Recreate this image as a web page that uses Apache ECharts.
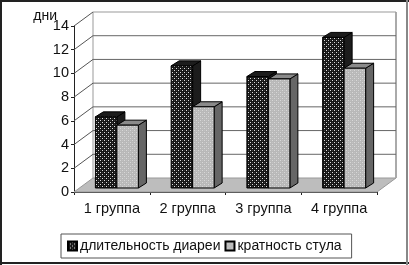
<!DOCTYPE html>
<html><head><meta charset="utf-8">
<style>html,body{margin:0;padding:0;background:#fff}#c{width:409px;height:265px}</style>
<script src="https://cdn.jsdelivr.net/npm/echarts@6/dist/echarts.min.js"></script>
</head><body><div id="c"></div>
<script>
const categories = ['1 группа','2 группа','3 группа','4 группа'];
const seriesNames = ['длительность диареи','кратность стула'];
const durationValues = [6.0,10.3,9.4,12.7];
const frequencyValues = [5.3,6.85,9.2,10.1];
const yTicks = [0,2,4,6,8,10,12,14];

function makePattern(bg, dot, alt){
  const c=document.createElement('canvas');c.width=4;c.height=4;
  const g=c.getContext('2d');
  g.fillStyle=bg;g.fillRect(0,0,4,4);
  g.fillStyle=alt;g.fillRect(2,0,1,1);g.fillRect(0,2,1,1);
  g.fillStyle=dot;g.fillRect(0,0,1,1);g.fillRect(2,2,1,1);
  return {image:c,repeat:'repeat'};
}
const darkFill = makePattern('#161616','#dddddd','#3a3a3a');
const lightFill = makePattern('#b8b8b8','#d8d8d8','#c2c2c2');

const chart = echarts.init(document.getElementById('c'),null,{renderer:'canvas'});
const DX=19, DY=14;       // wall depth
const OX=5, OY=4;         // bar front-plane shift
const BW=21.5, SX=8, SY=5; // bar width and side depth

function wallItem(params,api){
  const t=api.value(0);
  const p=api.coord([0,t]);
  const left=params.coordSys.x, right=left+params.coordSys.width;
  const y=p[1];
  const line={stroke:'#555',lineWidth:1};
  const kids=[];
  if(t===0){
    kids.push({type:'polygon',shape:{points:[[left,y],[right,y],[right+DX,y-DY],[left+DX,y-DY]]},style:{fill:'#bdbdbd',stroke:'#999',lineWidth:1}});
    kids.push({type:'line',shape:{x1:left+DX,y1:y-DY,x2:left+DX,y2:params.coordSys.y-DY},style:{stroke:'#999',lineWidth:1}});
    kids.push({type:'line',shape:{x1:right+DX,y1:y-DY,x2:right+DX,y2:params.coordSys.y-DY},style:{stroke:'#aaa',lineWidth:2}});
  } else {
    kids.push({type:'line',shape:{x1:left,y1:y,x2:left+DX,y2:y-DY},style:line});
    kids.push({type:'line',shape:{x1:left+DX,y1:y-DY,x2:right+DX,y2:y-DY},style:{stroke:t===14?'#999':'#666',lineWidth:1}});
  }
  return {type:'group',children:kids};
}
function barItem(fill,slot){
  return function(params,api){
    const cat=api.value(0), v=api.value(1);
    const b=api.coord([cat,0]), t=api.coord([cat,v]);
    const x0=b[0]+OX+(slot===0?-BW:0), x1=x0+BW;
    const y0=b[1]-OY, y1=t[1]-OY;
    const ink={stroke:'#000',lineWidth:1};
    const sideFill=slot===0?'#1c1c1c':'#666';
    const topFill=slot===0?'#1c1c1c':'#8a8a8a';
    return {type:'group',children:[
      {type:'polygon',shape:{points:[[x1,y0],[x1+SX,y0-SY],[x1+SX,y1-SY],[x1,y1]]},style:{fill:sideFill,...ink}},
      {type:'polygon',shape:{points:[[x0,y1],[x1,y1],[x1+SX,y1-SY],[x0+SX,y1-SY]]},style:{fill:topFill,...ink}},
      {type:'rect',shape:{x:x0,y:y1,width:BW,height:y0-y1},style:{fill:fill,...ink}}
    ]};
  };
}
const font='"Liberation Sans", Arial, sans-serif';
chart.setOption({
  animation:false,
  backgroundColor:'#fff',
  graphic:[
    {type:'line',shape:{x1:0,y1:1,x2:409,y2:1},style:{stroke:'#222',lineWidth:2}},
    {type:'line',shape:{x1:1,y1:0,x2:1,y2:265},style:{stroke:'#222',lineWidth:2}},
    {type:'line',shape:{x1:0,y1:263,x2:409,y2:263},style:{stroke:'#222',lineWidth:2}},
    {type:'line',shape:{x1:407,y1:0,x2:407,y2:265},style:{stroke:'#888',lineWidth:2}}
  ],
  grid:{left:74,right:32,top:26,bottom:73},
  legend:{
    data:seriesNames,left:61,top:234,width:288,height:25,icon:'rect',
    padding:[5,10,5,6],itemGap:4,itemWidth:9,itemHeight:9,
    borderColor:'#555',borderWidth:1,
    textStyle:{fontFamily:font,fontSize:14,color:'#111',padding:[1,0,0,-2]}
  },
  xAxis:{type:'category',data:categories,
    axisLine:{lineStyle:{color:'#222'}},axisTick:{show:true,alignWithLabel:false,length:3,lineStyle:{color:'#222'}},
    axisLabel:{fontFamily:font,fontSize:14.5,color:'#111',margin:9},splitLine:{show:false}},
  yAxis:{type:'value',min:0,max:14,interval:2,name:'дни',nameLocation:'end',nameGap:10,nameMoveOverlap:false,
    nameTextStyle:{fontFamily:font,fontSize:14,color:'#111',align:'right',padding:[0,17,0,0],verticalAlign:'middle'},
    axisLine:{show:true,lineStyle:{color:'#222'}},axisTick:{show:true,length:3,lineStyle:{color:'#222'}},
    axisLabel:{fontFamily:font,fontSize:14.5,color:'#111',margin:5},splitLine:{show:false}},
  series:[
    {type:'custom',name:'стены',silent:true,renderItem:wallItem,data:yTicks.map(t=>[t]),encode:{y:0},z:1,clip:false},
    {type:'custom',name:seriesNames[0],renderItem:barItem(darkFill,0),itemStyle:{color:darkFill,borderColor:'#000',borderWidth:1},
      data:durationValues.map((v,i)=>[i,v]),encode:{x:0,y:1},z:2,clip:false},
    {type:'custom',name:seriesNames[1],renderItem:barItem(lightFill,1),itemStyle:{color:lightFill,borderColor:'#000',borderWidth:1},
      data:frequencyValues.map((v,i)=>[i,v]),encode:{x:0,y:1},z:3,clip:false}
  ]
});
</script></body></html>
